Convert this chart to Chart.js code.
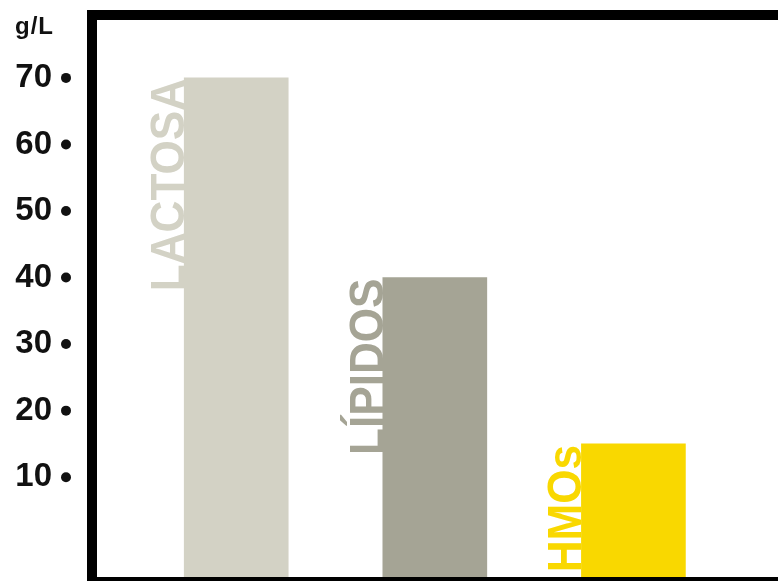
<!DOCTYPE html>
<html><head><meta charset="utf-8">
<script src="https://cdn.jsdelivr.net/npm/chart.js@4"></script>
<style>html,body{margin:0;padding:0;background:#fff;overflow:hidden}#wrap{width:778px;height:581px;position:relative}</style>
</head><body><div id="wrap"><canvas id="c"></canvas></div>
<script>
const categories = ['LACTOSA', 'LÍPIDOS', 'HMOs'];
const values = [70, 40, 15];
const barColors = ['#d3d2c5', '#a5a495', '#f9d800'];
const tickValues = [10, 20, 30, 40, 50, 60, 70];
const unitLabel = 'g/L';
const yMin = -5, yMax = 78.7;

const decorPlugin = {
  id: 'decor',
  afterDatasetsDraw(chart) {
    const ctx = chart.ctx;
    const meta = chart.getDatasetMeta(0);
    meta.data.forEach((bar, i) => {
      const left = bar.x - bar.width / 2;
      ctx.save();
      ctx.translate(left, bar.y + 1);
      ctx.rotate(-Math.PI / 2);
      ctx.scale(0.9, 1);
      ctx.font = 'bold 49px "Liberation Sans", Arial, sans-serif';
      ctx.fillStyle = barColors[i];
      ctx.textAlign = 'right';
      ctx.textBaseline = 'alphabetic';
      ctx.fillText(categories[i], 0, 0);
      ctx.restore();
    });
  },
  afterDraw(chart) {
    const ctx = chart.ctx;
    const a = chart.chartArea;
    const y = chart.scales.y;
    ctx.save();
    ctx.strokeStyle = '#000';
    ctx.lineWidth = 10;
    ctx.beginPath();
    ctx.moveTo(a.right + 20, a.top - 5);
    ctx.lineTo(a.left - 5, a.top - 5);
    ctx.lineTo(a.left - 5, a.bottom + 5);
    ctx.lineTo(a.right + 20, a.bottom + 5);
    ctx.stroke();
    ctx.fillStyle = '#111';
    tickValues.forEach(v => {
      ctx.beginPath();
      ctx.arc(66, y.getPixelForValue(v), 5, 0, Math.PI * 2);
      ctx.fill();
    });
    ctx.font = 'bold 24px "Liberation Sans", Arial, sans-serif';
    ctx.letterSpacing = '1px';
    ctx.textAlign = 'left';
    ctx.textBaseline = 'alphabetic';
    ctx.fillText(unitLabel, 15, 34);
    ctx.restore();
  }
};

new Chart(document.getElementById('c'), {
  type: 'bar',
  data: {
    datasets: [{
      data: categories.map((c, i) => ({ x: i, y: values[i] })),
      backgroundColor: barColors,
      base: yMin,
      barThickness: 104,
      borderWidth: 0
    }]
  },
  options: {
    responsive: true,
    maintainAspectRatio: false,
    animation: false,
    layout: { padding: { top: 20, right: 0, bottom: 4, left: 0 } },
    plugins: { legend: { display: false }, tooltip: { enabled: false } },
    scales: {
      x: { type: 'linear', min: -0.701, max: 2.728, display: false, offset: false },
      y: {
        min: yMin, max: yMax,
        afterBuildTicks: s => { s.ticks = tickValues.map(v => ({ value: v })); },
        afterFit: s => { s.width = 97; s.paddingTop = 0; s.paddingBottom = 0; },
        grid: { display: false, drawTicks: false },
        border: { display: false },
        ticks: { padding: 45, color: '#111', font: { family: '"Liberation Sans", Arial, sans-serif', weight: 'bold', size: 33 } }
      }
    }
  },
  plugins: [decorPlugin]
});
</script>
</body></html>
